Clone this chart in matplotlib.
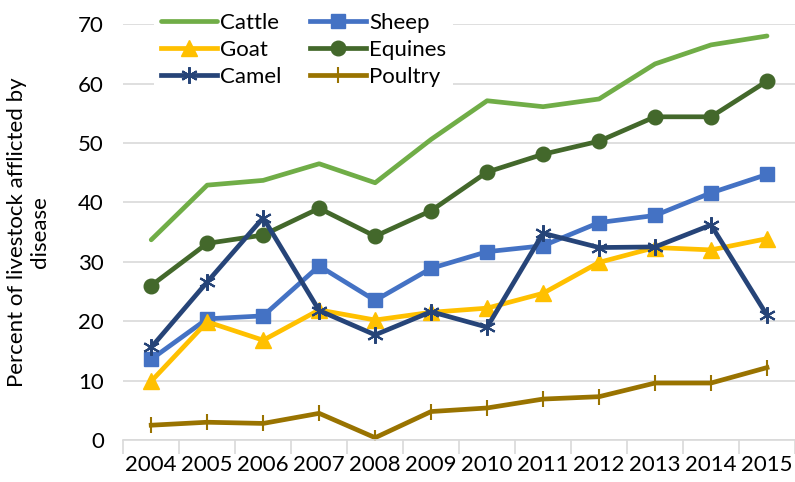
import numpy as np
import matplotlib
matplotlib.use('Agg')
import matplotlib.pyplot as plt

plt.rcParams['font.family'] = ['Lato', 'DejaVu Sans']

years = ['2004', '2005', '2006', '2007', '2008', '2009', '2010', '2011', '2012', '2013', '2014', '2015']

cattle = [33.7, 42.9, 43.7, 46.5, 43.3, 50.6, 57.1, 56.1, 57.4, 63.3, 66.5, 68.0]
sheep = [13.6, 20.4, 20.9, 29.3, 23.5, 28.9, 31.7, 32.7, 36.6, 37.8, 41.6, 44.7]
goat = [9.9, 19.9, 16.8, 21.9, 20.2, 21.5, 22.2, 24.7, 29.9, 32.4, 32.0, 33.9]
equines = [26.0, 33.1, 34.5, 39.0, 34.3, 38.6, 45.1, 48.1, 50.3, 54.4, 54.4, 60.4]
camel = [15.6, 26.6, 37.4, 21.8, 17.7, 21.6, 19.0, 34.8, 32.4, 32.5, 36.2, 21.0]
poultry = [2.5, 3.0, 2.8, 4.5, 0.4, 4.8, 5.4, 6.9, 7.3, 9.6, 9.6, 12.2]

x = np.arange(len(years))

fig = plt.figure(figsize=(7.95, 4.82), dpi=100)
ax = fig.add_axes([0.155, 0.087, 0.845, 0.863])

lw = 3.4
h_cattle, = ax.plot(x, cattle, color='#70AD47', lw=lw, label='Cattle', solid_capstyle='round')
h_sheep, = ax.plot(x, sheep, color='#4472C4', lw=lw, marker='s', ms=10.5, label='Sheep')
h_goat, = ax.plot(x, goat, color='#FFC000', lw=lw, marker='^', ms=12, label='Goat')
h_equines, = ax.plot(x, equines, color='#43682B', lw=lw, marker='o', ms=10.5, label='Equines')
h_camel, = ax.plot(x, camel, color='#264478', lw=lw, marker=(6, 2, 0), ms=12, mew=1.5, label='Camel')
h_poultry, = ax.plot(x, poultry, color='#997300', lw=lw, marker='|', ms=12, mew=1.5, label='Poultry')

ax.set_xlim(-0.5, len(years) - 0.5)
ax.set_ylim(0, 70)
ax.set_yticks(range(0, 71, 10))
ax.set_xticks(x)
ax.set_xticklabels(years)
ax.set_xticks(np.arange(-0.5, len(years), 1), minor=True)
ax.tick_params(axis='x', which='major', length=0, labelsize=16, pad=11)
ax.tick_params(axis='x', which='minor', length=10, width=1.2, color='#d9d9d9')
ax.tick_params(axis='y', length=0, labelsize=16, pad=14)

ax.grid(axis='y', color='#d9d9d9', lw=1.2)
ax.set_axisbelow(True)
for s in ['top', 'right', 'left']:
    ax.spines[s].set_visible(False)
ax.spines['bottom'].set_color('#d9d9d9')
ax.spines['bottom'].set_linewidth(1.2)

ax.set_ylabel('Percent of livestock afflicted by\ndisease', fontsize=16, labelpad=20)

leg = ax.legend([h_cattle, h_goat, h_camel, h_sheep, h_equines, h_poultry],
                ['Cattle', 'Goat', 'Camel', 'Sheep', 'Equines', 'Poultry'],
                ncol=2, loc='upper left', bbox_to_anchor=(0.03, 1.07), fontsize=16,
                frameon=True, framealpha=1, edgecolor='white', handlelength=2.5,
                handletextpad=0.15, columnspacing=1.3, labelspacing=0.32, borderpad=0.3)
leg.get_frame().set_linewidth(0)

fig.savefig('out.png', dpi=100)
